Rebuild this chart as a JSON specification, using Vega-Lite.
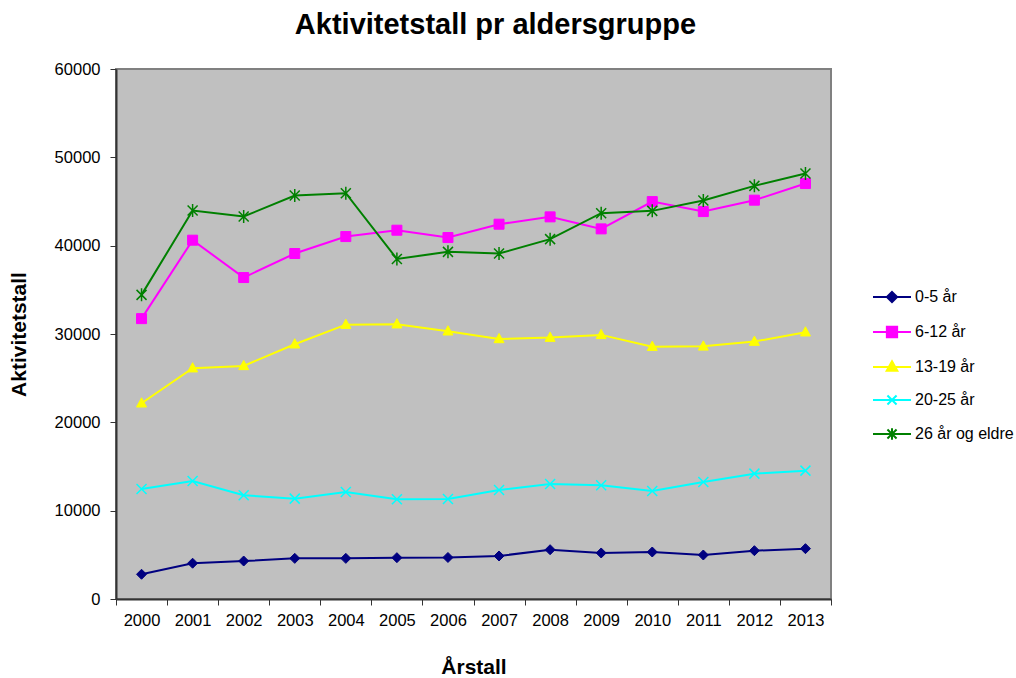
{
  "$schema": "https://vega.github.io/schema/vega-lite/v6.json",
  "width": 715,
  "height": 530,
  "autosize": {"type": "none"},
  "padding": {"left": 116, "top": 69, "right": 185, "bottom": 79},
  "background": "white",
  "config": {
    "font": "Liberation Sans",
    "view": {"fill": "#C0C0C0", "stroke": "#808080", "strokeWidth": 2},
    "axis": {"grid": false, "domainColor": "#333333", "domainWidth": 2, "tickColor": "#333333", "tickSize": 6, "labelFont": "Liberation Sans", "labelFontSize": 16.5, "labelColor": "black", "titleFont": "Liberation Sans", "titleFontSize": 21, "titleFontWeight": "bold", "titleColor": "black"}
  },
  "title": {"text": "Aktivitetstall pr aldersgruppe", "font": "Liberation Sans", "fontSize": 29, "fontWeight": "bold", "color": "black", "anchor": "middle", "dx": 22, "offset": 21},
  "data": {"values": [
    {"year": 2000, "series": "0-5 år", "value": 2800},
    {"year": 2001, "series": "0-5 år", "value": 4050},
    {"year": 2002, "series": "0-5 år", "value": 4300},
    {"year": 2003, "series": "0-5 år", "value": 4600},
    {"year": 2004, "series": "0-5 år", "value": 4600},
    {"year": 2005, "series": "0-5 år", "value": 4680},
    {"year": 2006, "series": "0-5 år", "value": 4700},
    {"year": 2007, "series": "0-5 år", "value": 4870},
    {"year": 2008, "series": "0-5 år", "value": 5580},
    {"year": 2009, "series": "0-5 år", "value": 5210},
    {"year": 2010, "series": "0-5 år", "value": 5320},
    {"year": 2011, "series": "0-5 år", "value": 4980},
    {"year": 2012, "series": "0-5 år", "value": 5470},
    {"year": 2013, "series": "0-5 år", "value": 5700},
    {"year": 2000, "series": "6-12 år", "value": 31740},
    {"year": 2001, "series": "6-12 år", "value": 40620},
    {"year": 2002, "series": "6-12 år", "value": 36390},
    {"year": 2003, "series": "6-12 år", "value": 39110},
    {"year": 2004, "series": "6-12 år", "value": 41030},
    {"year": 2005, "series": "6-12 år", "value": 41750},
    {"year": 2006, "series": "6-12 år", "value": 40920},
    {"year": 2007, "series": "6-12 år", "value": 42430},
    {"year": 2008, "series": "6-12 år", "value": 43260},
    {"year": 2009, "series": "6-12 år", "value": 41900},
    {"year": 2010, "series": "6-12 år", "value": 44990},
    {"year": 2011, "series": "6-12 år", "value": 43860},
    {"year": 2012, "series": "6-12 år", "value": 45150},
    {"year": 2013, "series": "6-12 år", "value": 47030},
    {"year": 2000, "series": "13-19 år", "value": 22160},
    {"year": 2001, "series": "13-19 år", "value": 26130},
    {"year": 2002, "series": "13-19 år", "value": 26390},
    {"year": 2003, "series": "13-19 år", "value": 28840},
    {"year": 2004, "series": "13-19 år", "value": 31060},
    {"year": 2005, "series": "13-19 år", "value": 31110},
    {"year": 2006, "series": "13-19 år", "value": 30310},
    {"year": 2007, "series": "13-19 år", "value": 29440},
    {"year": 2008, "series": "13-19 år", "value": 29590},
    {"year": 2009, "series": "13-19 år", "value": 29900},
    {"year": 2010, "series": "13-19 år", "value": 28570},
    {"year": 2011, "series": "13-19 år", "value": 28600},
    {"year": 2012, "series": "13-19 år", "value": 29140},
    {"year": 2013, "series": "13-19 år", "value": 30200},
    {"year": 2000, "series": "20-25 år", "value": 12460},
    {"year": 2001, "series": "20-25 år", "value": 13360},
    {"year": 2002, "series": "20-25 år", "value": 11740},
    {"year": 2003, "series": "20-25 år", "value": 11360},
    {"year": 2004, "series": "20-25 år", "value": 12120},
    {"year": 2005, "series": "20-25 år", "value": 11290},
    {"year": 2006, "series": "20-25 år", "value": 11320},
    {"year": 2007, "series": "20-25 år", "value": 12340},
    {"year": 2008, "series": "20-25 år", "value": 13020},
    {"year": 2009, "series": "20-25 år", "value": 12870},
    {"year": 2010, "series": "20-25 år", "value": 12230},
    {"year": 2011, "series": "20-25 år", "value": 13250},
    {"year": 2012, "series": "20-25 år", "value": 14190},
    {"year": 2013, "series": "20-25 år", "value": 14530},
    {"year": 2000, "series": "26 år og eldre", "value": 34430},
    {"year": 2001, "series": "26 år og eldre", "value": 43980},
    {"year": 2002, "series": "26 år og eldre", "value": 43300},
    {"year": 2003, "series": "26 år og eldre", "value": 45670},
    {"year": 2004, "series": "26 år og eldre", "value": 45940},
    {"year": 2005, "series": "26 år og eldre", "value": 38500},
    {"year": 2006, "series": "26 år og eldre", "value": 39300},
    {"year": 2007, "series": "26 år og eldre", "value": 39110},
    {"year": 2008, "series": "26 år og eldre", "value": 40740},
    {"year": 2009, "series": "26 år og eldre", "value": 43680},
    {"year": 2010, "series": "26 år og eldre", "value": 43940},
    {"year": 2011, "series": "26 år og eldre", "value": 45110},
    {"year": 2012, "series": "26 år og eldre", "value": 46770},
    {"year": 2013, "series": "26 år og eldre", "value": 48170}
  ]},
  "encoding": {
    "x": {"field": "year", "type": "quantitative",
      "scale": {"domain": [1999.5, 2013.5], "nice": false, "zero": false},
      "axis": {"title": "Årstall", "titlePadding": 28,
        "values": [1999.5, 2000, 2000.5, 2001, 2001.5, 2002, 2002.5, 2003, 2003.5, 2004, 2004.5, 2005, 2005.5, 2006, 2006.5, 2007, 2007.5, 2008, 2008.5, 2009, 2009.5, 2010, 2010.5, 2011, 2011.5, 2012, 2012.5, 2013, 2013.5],
        "labelExpr": "datum.value % 1 == 0 ? '' + datum.value : ''",
        "tickOpacity": {"condition": {"test": "datum.value % 1 == 0", "value": 0}, "value": 1},
        "labelOverlap": false, "labelFlush": false, "labelPadding": 7}},
    "y": {"field": "value", "type": "quantitative",
      "scale": {"domain": [0, 60000], "nice": false},
      "axis": {"title": "Aktivitetstall", "titlePadding": 25, "values": [0, 10000, 20000, 30000, 40000, 50000, 60000], "format": "d", "labelPadding": 10}}
  },
  "layer": [
    {
      "mark": {"type": "line", "strokeWidth": 2},
      "encoding": {
        "color": {"field": "series", "type": "nominal",
          "scale": {"domain": ["0-5 år", "6-12 år", "13-19 år", "20-25 år", "26 år og eldre"], "range": ["#000080", "#FF00FF", "#FFFF00", "#00FFFF", "#008000"]},
          "legend": {"title": null, "orient": "none", "legendX": 756, "legendY": 208,
            "symbolStrokeWidth": 2, "rowPadding": 5, "labelOffset": 3, "labelLimit": 300,
            "labelFont": "Liberation Sans", "labelFontSize": 16, "labelColor": "black",
            "encode": {"symbols": {"update": {
              "shape": {"signal": "['M-1,0H1M0,-0.27L0.27,0L0,0.27L-0.27,0Z', 'M-1,0H1M-0.27,-0.27H0.27V0.27H-0.27Z', 'M-1,0H1M0,-0.3L0.28,0.2H-0.28Z', 'M-1,0H1M-0.24,-0.24L0.24,0.24M-0.24,0.24L0.24,-0.24', 'M-1,0H1M-0.24,-0.24L0.24,0.24M-0.24,0.24L0.24,-0.24M0,-0.3V0.3'][datum.index]"},
              "size": {"value": 1444},
              "fill": {"scale": "color", "field": "value"},
              "stroke": {"scale": "color", "field": "value"},
              "strokeWidth": {"value": 2},
              "opacity": {"value": 1}
            }}}}
        }
      }
    },
    {
      "transform": [{"filter": {"field": "series", "equal": "0-5 år"}}],
      "mark": {"type": "point", "shape": "M0,-1L1,0L0,1L-1,0Z", "filled": true, "opacity": 1, "size": 100, "fill": "#000080", "stroke": "#000080", "strokeWidth": 1}
    },
    {
      "transform": [{"filter": {"field": "series", "equal": "6-12 år"}}],
      "mark": {"type": "point", "shape": "M-1,-1H1V1H-1Z", "filled": true, "opacity": 1, "size": 100, "fill": "#FF00FF", "stroke": "#FF00FF", "strokeWidth": 1}
    },
    {
      "transform": [{"filter": {"field": "series", "equal": "13-19 år"}}],
      "mark": {"type": "point", "shape": "M0,-1.1L1,0.75H-1Z", "filled": true, "opacity": 1, "size": 100, "fill": "#FFFF00", "stroke": "#FFFF00", "strokeWidth": 1}
    },
    {
      "transform": [{"filter": {"field": "series", "equal": "20-25 år"}}],
      "mark": {"type": "point", "shape": "M-1,-1L1,1M-1,1L1,-1", "filled": false, "opacity": 1, "size": 100, "stroke": "#00FFFF", "strokeWidth": 1.5}
    },
    {
      "transform": [{"filter": {"field": "series", "equal": "26 år og eldre"}}],
      "mark": {"type": "point", "shape": "M-1,-1L1,1M-1,1L1,-1M0,-1.3V1.3", "filled": false, "opacity": 1, "size": 100, "stroke": "#008000", "strokeWidth": 1.5}
    }
  ]
}
